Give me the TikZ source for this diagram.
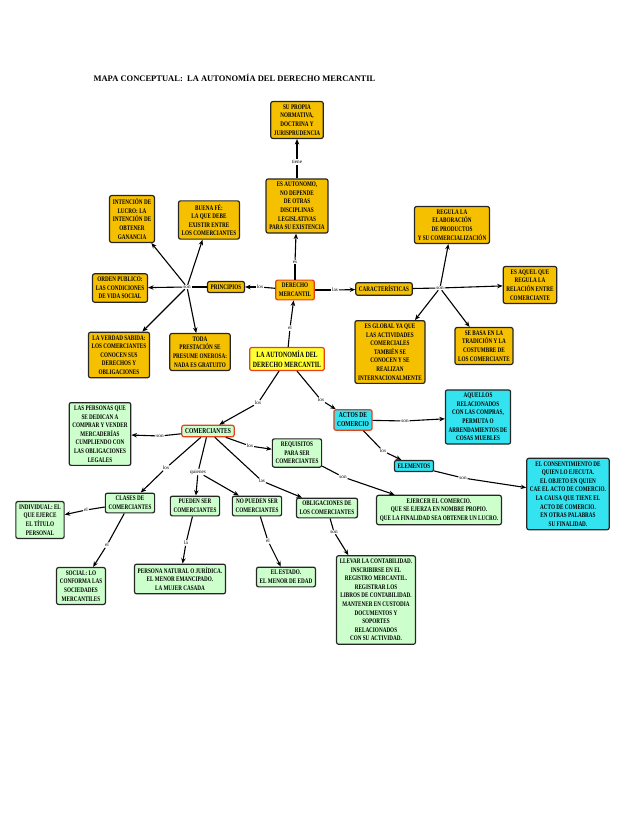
\documentclass[tikz,border=0pt]{standalone}
\usepackage{fontspec}
\setmainfont{Liberation Serif}
\newfontfamily\boxfont[FakeStretch=0.74]{Liberation Serif}
\usetikzlibrary{arrows.meta}

\definecolor{gold}{HTML}{F5C000}
\definecolor{mint}{HTML}{CCFFCC}
\definecolor{aqua}{HTML}{33E3F0}
\definecolor{lemon}{HTML}{FFFF33}
\definecolor{rim}{HTML}{E8401C}

\tikzset{
  concept/.style={draw=black!85,line width=1.2pt,rounded corners=2pt,align=center,
    font=\boxfont\bfseries\fontsize{7}{8.6}\selectfont,inner sep=3.2pt},
  orange/.style={concept,fill=gold},
  green/.style={concept,fill=mint},
  cyan/.style={concept,fill=aqua},
  hot/.style={draw=rim},
  link/.style={fill=white,inner sep=0.8pt,font=\fontsize{5.2}{6}\selectfont},
  arr/.style={-{Stealth[length=5.5pt,width=4.5pt]},line width=1.1pt},
  ln/.style={line width=1.1pt}
}

\begin{document}
\begin{tikzpicture}[x=1pt,y=-1pt]
\useasboundingbox (0,0) rectangle (638,826);

\node[anchor=west,font=\bfseries\fontsize{8.5}{10}\selectfont] (title) at (90,78)
  {MAPA CONCEPTUAL:\ \ LA AUTONOMÍA DEL DERECHO MERCANTIL};

% upper part
\node[orange] (propia) at (297,120) {SU PROPIA\\NORMATIVA,\\DOCTRINA Y\\JURISPRUDENCIA};
\node[orange] (auto) at (297,206) {ES AUTONOMO,\\NO DEPENDE\\DE OTRAS\\DISCIPLINAS\\LEGISLATIVAS\\PARA SU EXISTENCIA};
\node[orange,hot] (dm) at (295,290) {DERECHO\\MERCANTIL};
\node[concept,fill=lemon,hot,font=\boxfont\bfseries\fontsize{8}{9.5}\selectfont] (root) at (287,359) {LA AUTONOMÍA DEL\\DERECHO MERCANTIL};
\node[orange] (princ) at (226,287) {PRINCIPIOS};
\node[orange] (lucro) at (132,219) {INTENCIÓN DE\\LUCRO: LA\\INTENCIÓN DE\\OBTENER\\GANANCIA};
\node[orange] (buena) at (209,220) {BUENA FÉ:\\LA QUE DEBE\\EXISTIR ENTRE\\LOS COMERCIANTES};
\node[orange] (orden) at (120,288) {ORDEN PUBLICO:\\LAS CONDICIONES\\DE VIDA SOCIAL};
\node[orange] (verdad) at (119,355) {LA VERDAD SABIDA:\\LOS COMERCIANTES\\CONOCEN SUS\\DERECHOS Y\\OBLIGACIONES};
\node[orange] (toda) at (200,352) {TODA\\PRESTACIÓN SE\\PRESUME ONEROSA:\\NADA ES GRATUITO};
\node[orange] (carac) at (384,289) {CARACTERÍSTICAS};
\node[orange] (regula) at (452,225) {REGULA LA\\ELABORACIÓN\\DE PRODUCTOS\\Y SU COMERCIALIZACIÓN};
\node[orange] (aquel) at (530,285) {ES AQUEL QUE\\REGULA LA\\RELACIÓN ENTRE\\COMERCIANTE};
\node[orange] (global) at (390,352) {ES GLOBAL YA QUE\\LAS ACTIVIDADES\\COMERCIALES\\TAMBIÉN SE\\CONOCEN Y SE\\REALIZAN\\INTERNACIONALMENTE};
\node[orange] (basa) at (484,346) {SE BASA EN LA\\TRADICIÓN Y LA\\COSTUMBRE DE\\LOS COMERCIANTE};

% lower part
\node[green,hot,font=\boxfont\bfseries\fontsize{7.5}{8.5}\selectfont] (comer) at (208,431) {COMERCIANTES};
\node[cyan,hot,font=\boxfont\bfseries\fontsize{7.5}{9}\selectfont] (actos) at (353,420) {ACTOS DE\\COMERCIO};
\node[cyan] (aquellos) at (478,417) {AQUELLOS\\RELACIONADOS\\CON LAS COMPRAS,\\PERMUTA O\\ARRENDAMIENTOS DE\\COSAS MUEBLES};
\node[cyan] (elem) at (414,466) {ELEMENTOS};
\node[cyan] (consent) at (568,494) {EL CONSENTIMIENTO DE\\QUIEN LO EJECUTA.\\EL OBJETO EN QUIEN\\CAE EL ACTO DE COMERCIO.\\LA CAUSA QUE TIENE EL\\ACTO DE COMERCIO.\\EN OTRAS PALABRAS\\SU FINALIDAD.};
\node[green] (personas) at (100,434) {LAS PERSONAS QUE\\SE DEDICAN A\\COMPRAR Y VENDER\\MERCADERÍAS\\CUMPLIENDO CON\\LAS OBLIGACIONES\\LEGALES};
\node[green] (requi) at (297,453) {REQUISITOS\\PARA SER\\COMERCIANTES};
\node[green] (clases) at (130,503) {CLASES DE\\COMERCIANTES};
\node[green] (indiv) at (40,520) {INDIVIDUAL: EL\\QUE EJERCE\\EL TÍTULO\\PERSONAL};
\node[green] (pueden) at (195,506) {PUEDEN SER\\COMERCIANTES};
\node[green] (nopueden) at (257,506) {NO PUEDEN SER\\COMERCIANTES};
\node[green] (oblig) at (327,508) {OBLIGACIONES DE\\LOS COMERCIANTES};
\node[green] (ejercer) at (439,510) {EJERCER EL COMERCIO.\\QUE SE EJERZA EN NOMBRE PROPIO.\\QUE LA FINALIDAD SEA OBTENER UN LUCRO.};
\node[green] (social) at (81,586) {SOCIAL: LO\\CONFORMA LAS\\SOCIEDADES\\MERCANTILES};
\node[green] (natural) at (180,579) {PERSONA NATURAL O JURÍDICA.\\EL MENOR EMANCIPADO.\\LA MUJER CASADA};
\node[green] (estado) at (286,577) {EL ESTADO.\\EL MENOR DE EDAD};
\node[green] (llevar) at (376,600) {LLEVAR LA CONTABILIDAD.\\INSCRIBIRSE EN EL\\REGISTRO MERCANTIL.\\REGISTRAR LOS\\LIBROS DE CONTABILIDAD.\\MANTENER EN CUSTODIA\\DOCUMENTOS Y\\SOPORTES\\RELACIONADOS\\CON SU ACTIVIDAD.};

% linking words
\node[link] (tiene) at (297,162) {tiene};
\node[link] (es) at (295,262) {es};
\node[link] (el1) at (290,328) {el};
\node[link] (los1) at (260,287) {los};
\node[link] (son1) at (187,287) {son};
\node[link] (las1) at (335,290) {las};
\node[link] (son2) at (440,288) {son};
\node[link] (los2) at (258,403) {los};
\node[link] (los3) at (321,400) {los};
\node[link] (son3) at (405,421) {son};
\node[link] (los4) at (383,451) {los};
\node[link] (son4) at (463,478) {son};
\node[link] (son5) at (160,436) {son};
\node[link] (los5) at (250,446) {los};
\node[link] (los6) at (166,468) {los};
\node[link] (quienes) at (198,472) {quienes};
\node[link] (las2) at (262,481) {las};
\node[link] (son6) at (343,477) {son};
\node[link] (el2) at (86,510) {el};
\node[link] (el3) at (107,545) {el};
\node[link] (la1) at (186,543) {la};
\node[link] (el4) at (268,541) {el};
\node[link] (son7) at (334,532) {son};

% connectors
\draw[ln] (auto) -- (tiene); \draw[arr] (tiene) -- (propia);
\draw[ln] (dm) -- (es); \draw[arr] (es) -- (auto);
\draw[ln] (root) -- (el1); \draw[arr] (el1) -- (dm);
\draw[ln] (dm) -- (los1); \draw[arr] (los1) -- (princ);
\draw[ln] (princ) -- (son1);
\foreach \t in {lucro,buena,orden,verdad,toda} \draw[arr] (son1) -- (\t);
\draw[ln] (dm) -- (las1); \draw[arr] (las1) -- (carac);
\draw[ln] (carac) -- (son2);
\foreach \t in {regula,aquel,global,basa} \draw[arr] (son2) -- (\t);
\draw[ln] (root) -- (los2); \draw[arr] (los2) -- (comer);
\draw[ln] (root) -- (los3); \draw[arr] (los3) -- (actos);
\draw[ln] (actos) -- (son3); \draw[arr] (son3) -- (aquellos);
\draw[ln] (actos) -- (los4); \draw[arr] (los4) -- (elem);
\draw[ln] (elem) -- (son4); \draw[arr] (son4) -- (consent);
\draw[ln] (comer) -- (son5); \draw[arr] (son5) -- (personas);
\draw[ln] (comer) -- (los5); \draw[arr] (los5) -- (requi);
\draw[ln] (comer) -- (los6); \draw[arr] (los6) -- (clases);
\draw[ln] (comer) -- (quienes);
\draw[arr] (quienes) -- (pueden); \draw[arr] (quienes) -- (nopueden);
\draw[ln] (comer) -- (las2); \draw[arr] (las2) -- (oblig);
\draw[ln] (requi) -- (son6); \draw[arr] (son6) -- (ejercer);
\draw[ln] (clases) -- (el2); \draw[arr] (el2) -- (indiv);
\draw[ln] (clases) -- (el3); \draw[arr] (el3) -- (social);
\draw[ln] (pueden) -- (la1); \draw[arr] (la1) -- (natural);
\draw[ln] (nopueden) -- (el4); \draw[arr] (el4) -- (estado);
\draw[ln] (oblig) -- (son7); \draw[arr] (son7) -- (llevar);

\end{tikzpicture}
\end{document}
